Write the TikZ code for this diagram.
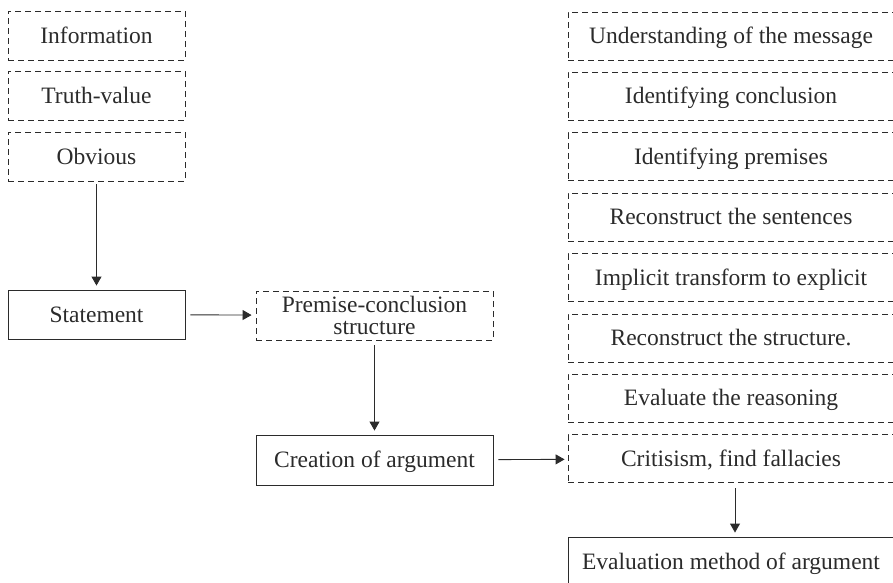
\documentclass[tikz,border=0pt]{standalone}
\usepackage{fontspec}
\setmainfont{Liberation Serif}
\usetikzlibrary{arrows.meta}
\definecolor{ink}{HTML}{2B2B2B}
\begin{document}
\begin{tikzpicture}[x=1pt,y=-1pt,
  box/.style={draw=ink, line width=0.9pt, text=ink, inner sep=0pt,
    font=\fontsize{23.5}{25}\selectfont, align=center,
    text height=18pt, text depth=3pt},
  dbox/.style={box, dash pattern=on 6pt off 4pt},
  leftbox/.style={minimum width=177pt, minimum height=49pt},
  midbox/.style={minimum width=237pt},
  rightbox/.style={minimum width=326pt, minimum height=48pt},
  link/.style={draw=ink, line width=0.9pt, -{Triangle[length=9pt,width=10pt]},
    shorten <=5pt, shorten >=4pt}
]
\useasboundingbox (0,0) rectangle (893,582);
\clip (0,0) rectangle (893,582);

% left column
\node[dbox, leftbox] (info)  at (96.5,35.5)  {Information};
\node[dbox, leftbox] (truth) at (96.5,95.5)  {Truth-value};
\node[dbox, leftbox] (obv)   at (96.5,156.5) {Obvious};
\node[box,  leftbox] (stat)  at (96.5,314.5) {Statement};

% middle column
\node[dbox, midbox, minimum height=49pt, text height=, text depth=] (prem) at (374.5,315.5)
  {Premise-conclusion\\[-3pt]structure};
\node[box, midbox, minimum height=50pt] (crea) at (374.5,460) {Creation of argument};

% right column
\node[dbox, rightbox] (r1) at (731,36.0)  {Understanding of the message};
\node[dbox, rightbox] (r2) at (731,96.4)  {Identifying conclusion};
\node[dbox, rightbox] (r3) at (731,156.8) {Identifying premises};
\node[dbox, rightbox] (r4) at (731,217.2) {Reconstruct the sentences};
\node[dbox, rightbox] (r5) at (731,277.6) {Implicit transform to explicit};
\node[dbox, rightbox] (r6) at (731,338.0) {Reconstruct the structure.};
\node[dbox, rightbox] (r7) at (731,398.4) {Evaluate the reasoning};
\node[dbox, rightbox] (r8) at (731,458.8) {Critisism, find fallacies};
\node[box, minimum width=326pt, minimum height=50pt] (eval) at (731,562)
  {Evaluation method of argument};

% connectors
\draw[link, shorten <=3pt] (obv) -- (stat);
\draw[link] (stat) -- (prem);
\draw[link] (prem) -- (crea);
\draw[link, shorten >=3pt] (crea) -- (r8);
\draw[link] ([xshift=4pt]r8.south) -- ([xshift=4pt]eval.north);
\end{tikzpicture}
\end{document}
